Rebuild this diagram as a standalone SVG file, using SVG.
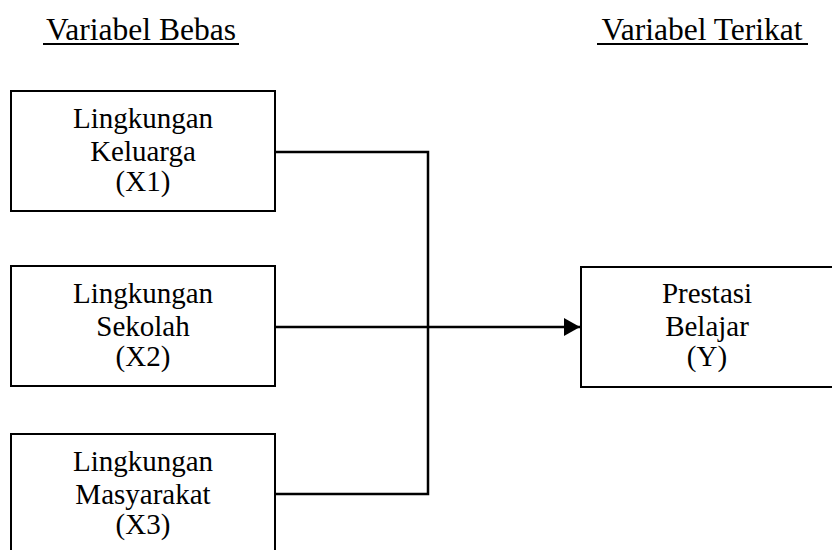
<svg xmlns="http://www.w3.org/2000/svg" width="832" height="550" viewBox="0 0 832 550">
<style>
  .box { fill: #fff; stroke: #000; stroke-width: 2; }
  .t { font-family: 'Liberation Serif', 'Tinos', 'DejaVu Serif', serif; font-size: 29px; fill: #000; text-anchor: middle; }
  .h { font-family: 'Liberation Serif', 'Tinos', 'DejaVu Serif', serif; font-size: 31.5px; fill: #000; text-anchor: middle; }
  .ul { stroke: #000; stroke-width: 2; }
  .c { fill: none; stroke: #000; stroke-width: 2.5; }
</style>
<defs>
  <marker id="arr" markerUnits="userSpaceOnUse" markerWidth="16" markerHeight="18" refX="16" refY="9" orient="auto">
    <path d="M0,0 L16,9 L0,18 Z" fill="#000"/>
  </marker>
</defs>
<rect width="832" height="550" fill="#fff"/>
<g id="heading-bebas">
  <text class="h" x="141" y="40">Variabel Bebas</text>
  <line class="ul" x1="43" y1="44" x2="239" y2="44"/>
</g>
<g id="heading-terikat">
  <text class="h" x="702" y="40">Variabel Terikat</text>
  <line class="ul" x1="597" y1="44" x2="808" y2="44"/>
</g>
<g id="connectors">
  <polyline class="c" points="275,152 428,152 428,494 275,494"/>
  <line class="c" x1="275" y1="327" x2="580" y2="327" marker-end="url(#arr)"/>
</g>
<g id="x1">
  <rect class="box" x="11" y="91" width="264" height="120"/>
  <text class="t" x="143" y="128">Lingkungan</text>
  <text class="t" x="143" y="161">Keluarga</text>
  <text class="t" x="143" y="191">(X1)</text>
</g>
<g id="x2">
  <rect class="box" x="11" y="266" width="264" height="120"/>
  <text class="t" x="143" y="303">Lingkungan</text>
  <text class="t" x="143" y="336">Sekolah</text>
  <text class="t" x="143" y="366">(X2)</text>
</g>
<g id="x3">
  <rect class="box" x="11" y="434" width="264" height="122"/>
  <text class="t" x="143" y="471">Lingkungan</text>
  <text class="t" x="143" y="504">Masyarakat</text>
  <text class="t" x="143" y="534">(X3)</text>
</g>
<g id="y">
  <rect class="box" x="581" y="267" width="254" height="120"/>
  <text class="t" x="707" y="303">Prestasi</text>
  <text class="t" x="707" y="336">Belajar</text>
  <text class="t" x="707" y="366">(Y)</text>
</g>
</svg>
